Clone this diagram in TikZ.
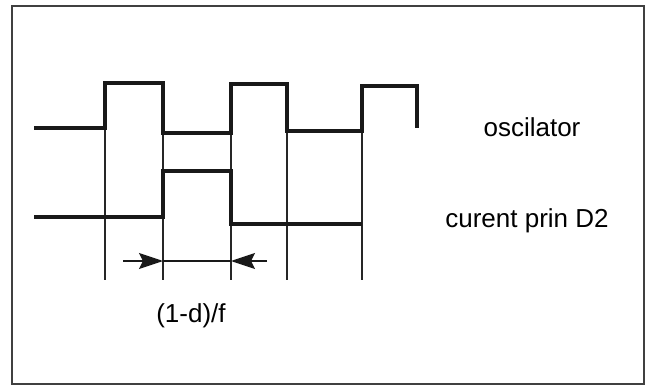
\documentclass[tikz,border=0pt]{standalone}
\usepackage{fontspec}
\setmainfont{Liberation Sans}
\usetikzlibrary{arrows.meta}
\begin{document}
\begin{tikzpicture}[x=1pt,y=-1pt,
  wave/.style={line width=3.2pt,line join=miter,black!90},
  guide/.style={line width=1.3pt,black!85},
  frame/.style={line width=1.6pt,black!75},
  dimarrow/.style={line width=1.3pt,black!90,-{Stealth[length=24pt,width=16pt,inset=4pt]}},
  lbl/.style={font=\fontsize{26}{30}\selectfont,anchor=base,inner sep=0pt}]
\useasboundingbox (0,0) rectangle (647,387);
\fill[white] (0,0) rectangle (647,387);
\draw[frame] (12,6) rectangle (644,384);
% oscillator corners
\coordinate (o0) at (34,128);
\coordinate (o1) at (105,128);
\coordinate (o2) at (105,83);
\coordinate (o3) at (163,83);
\coordinate (o4) at (163,133);
\coordinate (o5) at (231,133);
\coordinate (o6) at (231,84);
\coordinate (o7) at (287,84);
\coordinate (o8) at (287,131);
\coordinate (o9) at (362,131);
\coordinate (o10) at (362,86);
\coordinate (o11) at (417,86);
\coordinate (o12) at (417,128);
% current corners
\coordinate (c0) at (34,217);
\coordinate (c1) at (163,217);
\coordinate (c2) at (163,171);
\coordinate (c3) at (231,171);
\coordinate (c4) at (231,224);
\coordinate (c5) at (362,224);
% guide line ends
\coordinate (g1) at (105,280);
\coordinate (g2) at (163,280);
\coordinate (g3) at (231,280);
\coordinate (g4) at (287,280);
\coordinate (g5) at (362,280);
% guides
\draw[guide] (o1) -- (g1);
\draw[guide] (o4) -- (g2);
\draw[guide] (o5) -- (g3);
\draw[guide] (o8) -- (g4);
\draw[guide] (o9) -- (g5);
% waves
\draw[wave] (o0) -- (o1) -- (o2) -- (o3) -- (o4) -- (o5) -- (o6) -- (o7) -- (o8) -- (o9) -- (o10) -- (o11) -- (o12);
\draw[wave] (c0) -- (c1) -- (c2) -- (c3) -- (c4) -- (c5);
% dimension
\coordinate (aL) at (123,261);
\coordinate (a1) at (163,261);
\coordinate (a2) at (231,261);
\coordinate (aR) at (267,261);
\draw[dimarrow] (aL) -- (a1);
\draw[line width=1.8pt,black!90] (a1) -- (a2);
\draw[dimarrow] (aR) -- (a2);
% labels
\node[lbl] (tosc) at (532,137) {oscilator};
\node[lbl] (tcur) at (527,227) {curent prin D2};
\node[lbl] (tdim) at (191,322) {(1-d)/f};
\end{tikzpicture}
\end{document}
